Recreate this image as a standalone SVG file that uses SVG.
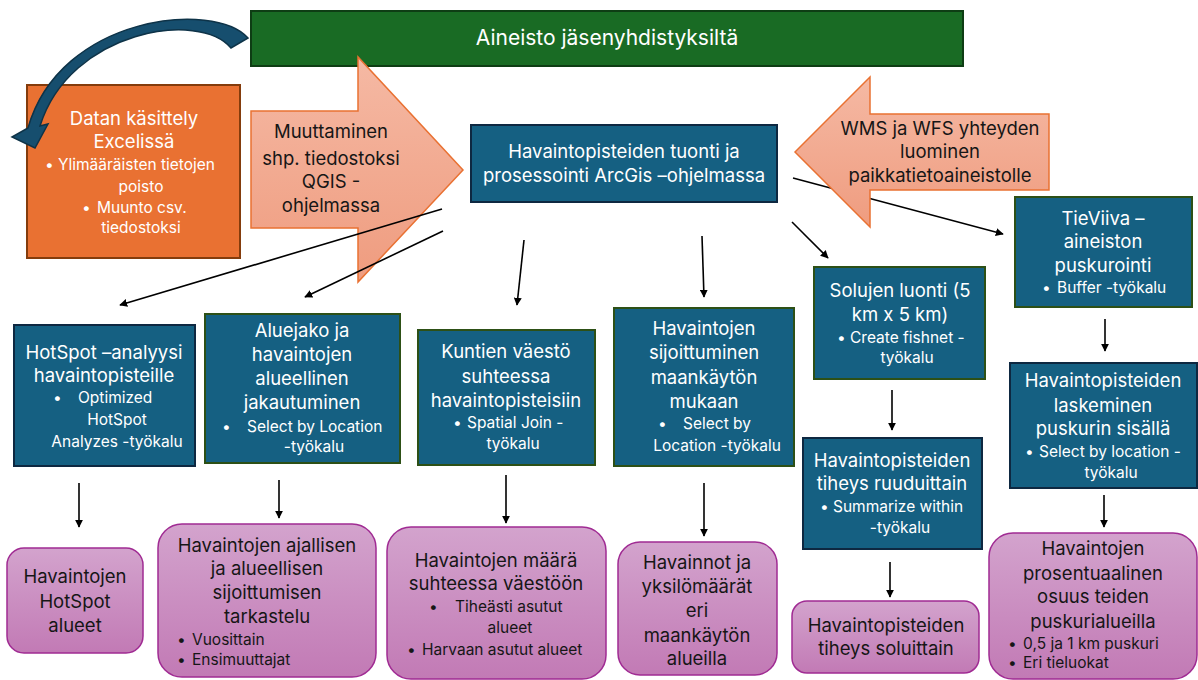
<svg xmlns="http://www.w3.org/2000/svg" width="1198" height="680" viewBox="0 0 1198 680">
<style>
text{font-family:Inter,"Liberation Sans",sans-serif}
.w{fill:#ffffff}
.k{fill:#161616}
.h{font-size:18.5px;text-anchor:middle}
.b{font-size:15.5px}
.m{text-anchor:middle}
.blue{fill:#156082;stroke-width:2}
.nv{stroke:#0E2841}
.gr{stroke:#2D5016}
.pink{fill:url(#pg);stroke:#A02B93;stroke-width:1.5}
.sal{fill:url(#sg);stroke:#E97132;stroke-width:1.5}
.con line{stroke:#000;stroke-width:1.6;marker-end:url(#ah)}
</style>
<defs>
<linearGradient id="pg" x1="0" y1="0" x2="0" y2="1"><stop offset="0" stop-color="#D3A3CD"/><stop offset="1" stop-color="#C27AB5"/></linearGradient>
<linearGradient id="sg" x1="0" y1="0" x2="0" y2="1"><stop offset="0" stop-color="#F5B9A4"/><stop offset="1" stop-color="#EF9C7F"/></linearGradient>
<marker id="ah" viewBox="0 0 10 10" refX="9" refY="5" markerWidth="5" markerHeight="5" orient="auto" markerUnits="strokeWidth"><path d="M0,0 L10,5 L0,10 z" fill="#000"/></marker>
</defs>
<rect width="1198" height="680" fill="#ffffff"/>

<g id="n-aineisto">
<rect x="251" y="11" width="712" height="55" fill="#196B24" stroke="#0E3D14" stroke-width="2"/>
<text class="w m" x="607" y="45" font-size="21">Aineisto jäsenyhdistyksiltä</text>
</g>

<g id="n-excel">
<rect x="27" y="85" width="213" height="173" fill="#E97132" stroke="#843C0C" stroke-width="2"/>
<text class="w h" x="134" y="125">Datan käsittely</text>
<text class="w h" x="134" y="148">Excelissä</text>
<text class="w b" x="45" y="170">•</text><text class="w b" x="58" y="170">Ylimääräisten tietojen</text>
<text class="w b m" x="141" y="192">poisto</text>
<text class="w b" x="82" y="213">•</text><text class="w b" x="97" y="213">Muunto csv.</text>
<text class="w b m" x="141" y="233">tiedostoksi</text>
</g>

<g id="curved-arrow">
<path d="M248,38 C215,0 60,15 28,128 L12,137 L35,148 L48,124 L40,126 C70,30 200,10 231,48 Z" fill="#164E6E" stroke="#0E3348" stroke-width="1.5"/>
</g>

<g id="n-qgis">
<polygon class="sal" points="251,111 358,111 358,57 463,170 358,282 358,228 251,228"/>
<text class="k h" x="331" y="138">Muuttaminen</text>
<text class="k h" x="331" y="165">shp. tiedostoksi</text>
<text class="k h" x="331" y="188">QGIS -</text>
<text class="k h" x="331" y="212">ohjelmassa</text>
</g>

<g id="n-arcgis">
<rect class="blue nv" x="471" y="125" width="306" height="77"/>
<text class="w h" x="624" y="158">Havaintopisteiden tuonti ja</text>
<text class="w h" x="624" y="182">prosessointi ArcGis –ohjelmassa</text>
</g>

<g class="con" id="connectors">
<line x1="442" y1="209" x2="120" y2="305"/>
<line x1="443" y1="231" x2="305" y2="297"/>
<line x1="524" y1="240" x2="517" y2="305"/>
<line x1="702" y1="236" x2="704" y2="297"/>
<line x1="792" y1="222" x2="828" y2="258"/>
<line x1="793" y1="178" x2="1003" y2="234"/>
<line x1="79" y1="483" x2="79" y2="527"/>
<line x1="279" y1="480" x2="279" y2="518"/>
<line x1="506" y1="475" x2="506" y2="523"/>
<line x1="704" y1="483" x2="704" y2="536"/>
<line x1="892" y1="390" x2="892" y2="430"/>
<line x1="890" y1="562" x2="890" y2="597"/>
<line x1="1105" y1="319" x2="1105" y2="351"/>
<line x1="1104" y1="495" x2="1104" y2="527"/>
</g>

<g id="n-wms">
<polygon class="sal" points="795,152 870,77 870,114 1049,114 1049,190 870,190 870,227"/>
<text class="k h" x="940" y="135">WMS ja WFS yhteyden</text>
<text class="k h" x="940" y="158">luominen</text>
<text class="k h" x="940" y="182">paikkatietoaineistolle</text>
</g>

<g id="n-hotspot">
<rect class="blue nv" x="14" y="325" width="181" height="141"/>
<text class="w h" x="104" y="359">HotSpot –analyysi</text>
<text class="w h" x="104" y="382">havaintopisteille</text>
<text class="w b" x="53" y="403">•</text><text class="w b" x="78" y="403">Optimized</text>
<text class="w b m" x="117" y="425">HotSpot</text>
<text class="w b m" x="117" y="447">Analyzes -työkalu</text>
</g>

<g id="n-aluejako">
<rect class="blue gr" x="205" y="314" width="195" height="149"/>
<text class="w h" x="302" y="337">Aluejako ja</text>
<text class="w h" x="302" y="361">havaintojen</text>
<text class="w h" x="302" y="385">alueellinen</text>
<text class="w h" x="302" y="409">jakautuminen</text>
<text class="w b" x="222" y="432">•</text><text class="w b" x="247" y="432">Select by Location</text>
<text class="w b m" x="314" y="452">-työkalu</text>
</g>

<g id="n-kuntien">
<rect class="blue gr" x="418" y="330" width="177" height="135"/>
<text class="w h" x="506" y="358">Kuntien väestö</text>
<text class="w h" x="506" y="383">suhteessa</text>
<text class="w h" x="506" y="407">havaintopisteisiin</text>
<text class="w b" x="453" y="428">•</text><text class="w b" x="467" y="428">Spatial Join -</text>
<text class="w b m" x="513" y="449">työkalu</text>
</g>

<g id="n-sijoittuminen">
<rect class="blue gr" x="614" y="308" width="180" height="158"/>
<text class="w h" x="704" y="335">Havaintojen</text>
<text class="w h" x="704" y="359">sijoittuminen</text>
<text class="w h" x="704" y="384">maankäytön</text>
<text class="w h" x="704" y="408">mukaan</text>
<text class="w b" x="658" y="429">•</text><text class="w b" x="683" y="429">Select by</text>
<text class="w b m" x="717" y="451">Location -työkalu</text>
</g>

<g id="n-solujen">
<rect class="blue gr" x="814" y="267" width="171" height="112"/>
<text class="w h" x="900" y="297">Solujen luonti (5</text>
<text class="w h" x="900" y="321">km x 5 km)</text>
<text class="w b" x="837" y="343">•</text><text class="w b" x="850" y="343">Create fishnet -</text>
<text class="w b m" x="907" y="363">työkalu</text>
</g>

<g id="n-ruuduittain">
<rect class="blue nv" x="803" y="438" width="179" height="111"/>
<text class="w h" x="892" y="467">Havaintopisteiden</text>
<text class="w h" x="892" y="490">tiheys ruuduittain</text>
<text class="w b" x="820" y="512">•</text><text class="w b" x="833" y="512">Summarize within</text>
<text class="w b m" x="900" y="533">-työkalu</text>
</g>

<g id="n-tieviiva">
<rect class="blue gr" x="1015" y="197" width="177" height="110"/>
<text class="w h" x="1103" y="225">TieViiva –</text>
<text class="w h" x="1103" y="248">aineiston</text>
<text class="w h" x="1103" y="272">puskurointi</text>
<text class="w b" x="1042" y="293">•</text><text class="w b" x="1057" y="293">Buffer -työkalu</text>
</g>

<g id="n-laskeminen">
<rect class="blue nv" x="1010" y="363" width="187" height="125"/>
<text class="w h" x="1103" y="387">Havaintopisteiden</text>
<text class="w h" x="1103" y="412">laskeminen</text>
<text class="w h" x="1103" y="435">puskurin sisällä</text>
<text class="w b" x="1025" y="457">•</text><text class="w b" x="1039" y="457">Select by location -</text>
<text class="w b m" x="1111" y="478">työkalu</text>
</g>

<g id="r-hotspot">
<rect class="pink" x="7" y="548" width="136" height="105" rx="17"/>
<text class="k h" x="75" y="583">Havaintojen</text>
<text class="k h" x="75" y="608">HotSpot</text>
<text class="k h" x="75" y="632">alueet</text>
</g>

<g id="r-ajallisen">
<rect class="pink" x="158" y="524" width="218" height="153" rx="24"/>
<text class="k h" x="267" y="552">Havaintojen ajallisen</text>
<text class="k h" x="267" y="575">ja alueellisen</text>
<text class="k h" x="267" y="599">sijoittumisen</text>
<text class="k h" x="267" y="623">tarkastelu</text>
<text class="k b" x="177" y="645">•</text><text class="k b" x="192" y="645">Vuosittain</text>
<text class="k b" x="177" y="665">•</text><text class="k b" x="192" y="665">Ensimuuttajat</text>
</g>

<g id="r-maara">
<rect class="pink" x="387" y="527" width="219" height="152" rx="24"/>
<text class="k h" x="496" y="567">Havaintojen määrä</text>
<text class="k h" x="496" y="590">suhteessa väestöön</text>
<text class="k b" x="429" y="612">•</text><text class="k b" x="455" y="612">Tiheästi asutut</text>
<text class="k b m" x="510" y="633">alueet</text>
<text class="k b" x="407" y="655">•</text><text class="k b" x="422" y="655">Harvaan asutut alueet</text>
</g>

<g id="r-havainnot">
<rect class="pink" x="618" y="542" width="159" height="133" rx="22"/>
<text class="k h" x="697" y="569">Havainnot ja</text>
<text class="k h" x="697" y="593">yksilömäärät</text>
<text class="k h" x="697" y="617">eri</text>
<text class="k h" x="697" y="642">maankäytön</text>
<text class="k h" x="697" y="665">alueilla</text>
</g>

<g id="r-soluittain">
<rect class="pink" x="792" y="601" width="187" height="72" rx="15"/>
<text class="k h" x="886" y="632">Havaintopisteiden</text>
<text class="k h" x="886" y="655">tiheys soluittain</text>
</g>

<g id="r-prosentuaalinen">
<rect class="pink" x="989" y="533" width="208" height="146" rx="24"/>
<text class="k h" x="1093" y="555">Havaintojen</text>
<text class="k h" x="1093" y="580">prosentuaalinen</text>
<text class="k h" x="1093" y="603">osuus teiden</text>
<text class="k h" x="1093" y="628">puskurialueilla</text>
<text class="k b" x="1008" y="649">•</text><text class="k b" x="1023" y="649">0,5 ja 1 km puskuri</text>
<text class="k b" x="1008" y="668">•</text><text class="k b" x="1023" y="668">Eri tieluokat</text>
</g>
</svg>
